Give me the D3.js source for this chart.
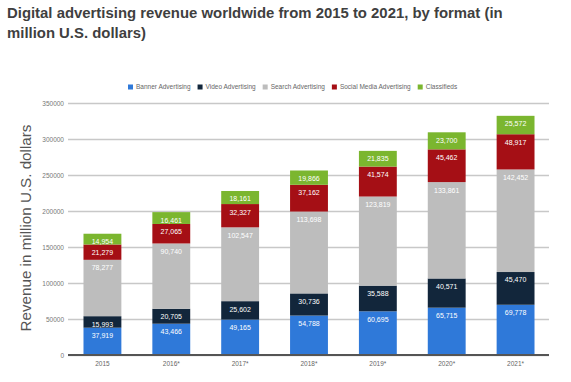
<!DOCTYPE html>
<html><head><meta charset="utf-8">
<script src="https://cdn.jsdelivr.net/npm/d3@7"></script>
<style>body{margin:0;background:#fff;}svg{display:block;}</style>
</head><body>
<svg id="c" width="571" height="382"></svg>
<script>
const years = ["2015","2016*","2017*","2018*","2019*","2020*","2021*"];
const seriesNames = ["Banner Advertising","Video Advertising","Search Advertising","Social Media Advertising","Classifieds"];
const seriesColors = ["#2f79d9","#12263b","#bdbdbd","#a50f15","#7bb62f"];
const banner = [37919,43466,49165,54788,60695,65715,69778];
const video = [15993,20705,25602,30736,35588,40571,45470];
const search = [78277,90740,102547,113698,123819,133861,142452];
const social = [21279,27065,32327,37162,41574,45462,48917];
const classifieds = [14954,16461,18161,19866,21835,23700,25572];
const yTicks = [0,50000,100000,150000,200000,250000,300000,350000];
const titleLines = ["Digital advertising revenue worldwide from 2015 to 2021, by format (in","million U.S. dollars)"];
const yTitle = "Revenue in million U.S. dollars";

const svg = d3.select("#c");
const font = "'Liberation Sans', Arial, sans-serif";

const x = d3.scaleBand().domain(years).range([68, 550]).paddingInner(0.45).paddingOuter(0.225);
const y = d3.scaleLinear().domain([0, 350000]).range([355, 103]);

// title
svg.append("g").selectAll("text").data(titleLines).join("text")
  .attr("x", 7).attr("y", (d,i) => 18 + i*20)
  .attr("font-family", font).attr("font-weight", "bold").attr("font-size", 14.9)
  .attr("fill", "#3f3f3f").text(d => d);

// grid + y axis
const yAxis = d3.axisLeft(y).tickValues(yTicks).tickFormat(d3.format("d")).tickSize(-(549-68)).tickPadding(4);
const gy = svg.append("g").attr("transform", "translate(68,0)").call(yAxis);
gy.select(".domain").remove();
gy.selectAll(".tick line").attr("stroke", "#c8c8c8").attr("stroke-width", 1.5);
gy.selectAll(".tick text").attr("font-family", font).attr("font-size", 6.5).attr("fill", "#777");

// stacked bars
const rows = years.map((yr, i) => ({year: yr, s0: banner[i], s1: video[i], s2: search[i], s3: social[i], s4: classifieds[i]}));
const stack = d3.stack().keys(["s0","s1","s2","s3","s4"])(rows);
const layers = svg.append("g").selectAll("g").data(stack).join("g")
  .attr("fill", (d,i) => seriesColors[i]);
layers.selectAll("rect").data(d => d).join("rect")
  .attr("x", d => x(d.data.year)).attr("width", x.bandwidth())
  .attr("y", d => y(d[1])).attr("height", d => y(d[0]) - y(d[1]));
layers.selectAll("text").data(d => d).join("text")
  .attr("x", d => x(d.data.year) + x.bandwidth()/2)
  .attr("y", d => y(d[1]) + 8)
  .attr("dy", "0.35em").attr("text-anchor", "middle")
  .attr("font-family", font).attr("font-size", 7).attr("fill", "#fff")
  .text(d => d3.format(",")(d[1] - d[0]));

// baseline
svg.append("line").attr("x1", 68).attr("x2", 549).attr("y1", y(0)).attr("y2", y(0))
  .attr("stroke", "#555").attr("stroke-width", 2);

// x axis labels
const xAxis = d3.axisBottom(x).tickSize(0).tickPadding(6);
const gx = svg.append("g").attr("transform", `translate(0,${y(0)})`).call(xAxis);
gx.select(".domain").remove();
gx.selectAll(".tick text").attr("font-family", font).attr("font-size", 6.5).attr("fill", "#666");

// y title
svg.append("text").attr("transform", "translate(31,228) rotate(-90)")
  .attr("text-anchor", "middle").attr("font-family", font).attr("font-size", 15.2)
  .attr("fill", "#555").text(yTitle);

// legend
const lg = svg.append("g").attr("transform", "translate(128,87)");
let lx = 0;
seriesNames.forEach((n, i) => {
  const g = lg.append("g").attr("transform", `translate(${lx},0)`);
  g.append("rect").attr("x", 0).attr("y", -2.5).attr("width", 5).attr("height", 5).attr("fill", seriesColors[i]);
  const t = g.append("text").attr("x", 8).attr("dy", "0.35em").attr("font-family", font)
    .attr("font-size", 6.5).attr("fill", "#666").text(n);
  lx += 8 + t.node().getComputedTextLength() + 7;
});
</script>
</body></html>
